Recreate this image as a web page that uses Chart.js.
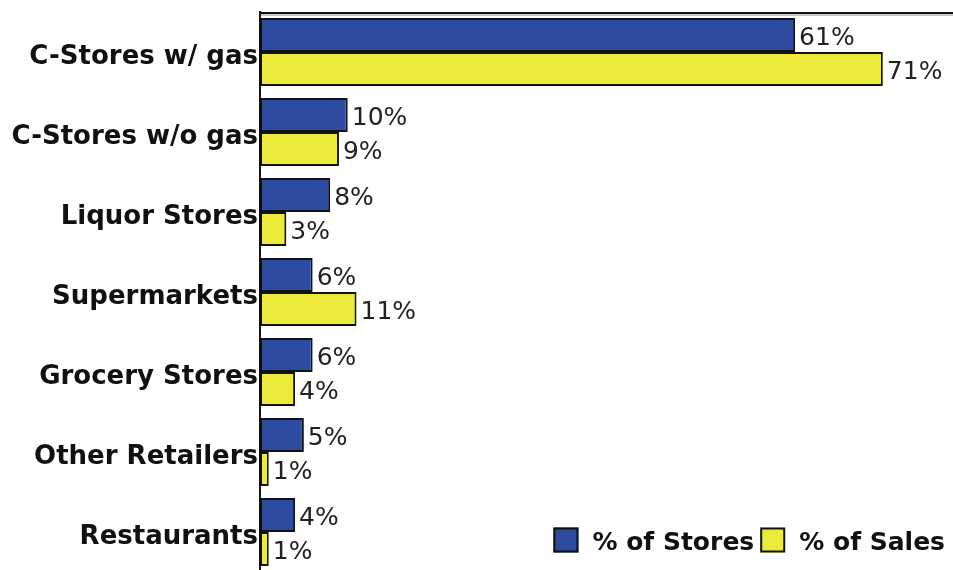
<!DOCTYPE html>
<html>
<head>
<meta charset="utf-8">
<title>Stores vs Sales</title>
<script src="https://cdn.jsdelivr.net/npm/chart.js@4/dist/chart.umd.min.js"></script>
<style>
  html, body { margin: 0; padding: 0; background: #fff; overflow: hidden; }
  #wrap { position: relative; width: 953px; height: 576px; }
</style>
</head>
<body>
<div id="wrap"><canvas id="barchart"></canvas></div>
<script>
const categories = [
  'C-Stores w/ gas',
  'C-Stores w/o gas',
  'Liquor Stores',
  'Supermarkets',
  'Grocery Stores',
  'Other Retailers',
  'Restaurants'
];
const storesPct = [61, 10, 8, 6, 6, 5, 4];
const salesPct  = [71, 9, 3, 11, 4, 1, 1];
const seriesNames = ['% of Stores', '% of Sales'];
const seriesColors = ['#2e4c9f', '#ecea3b'];

const LABEL_FONT = '"DejaVu Sans", sans-serif';

// top frame line + value labels next to each bar
const barExtras = {
  id: 'barExtras',
  afterDatasetsDraw(chart) {
    const ctx = chart.ctx;
    const area = chart.chartArea;
    ctx.save();

    ctx.strokeStyle = '#111';
    ctx.lineWidth = 2;
    ctx.beginPath();
    ctx.moveTo(area.left - 1, area.top + 1);
    ctx.lineTo(area.right, area.top + 1);
    ctx.stroke();
    ctx.strokeStyle = '#c8c8c8';
    ctx.beginPath();
    ctx.moveTo(area.left + 1, area.top + 3);
    ctx.lineTo(area.right, area.top + 3);
    ctx.stroke();

    ctx.font = '25px ' + LABEL_FONT;
    ctx.fillStyle = '#222';
    ctx.textAlign = 'left';
    ctx.textBaseline = 'middle';
    chart.data.datasets.forEach((ds, i) => {
      chart.getDatasetMeta(i).data.forEach((bar, j) => {
        ctx.fillText(ds.data[j] + '%', bar.x + 4, bar.y + 3);
      });
    });
    ctx.restore();
  }
};

// legend sits inside the plot, bottom right
const cornerLegend = {
  id: 'cornerLegend',
  afterDraw(chart) {
    const ctx = chart.ctx;
    const area = chart.chartArea;
    const box = 25;
    ctx.save();
    ctx.font = 'bold 25px ' + LABEL_FONT;
    const items = chart.data.datasets.map(ds => ({
      text: ds.label,
      color: ds.backgroundColor,
      w: ctx.measureText(ds.label).width
    }));
    const total = items.reduce((s, it) => s + box + 14 + it.w, 0) + 6 * (items.length - 1);
    let x = area.right - 8 - total;
    const cy = area.bottom - 32;
    ctx.textBaseline = 'middle';
    items.forEach(it => {
      ctx.fillStyle = it.color;
      ctx.fillRect(x, cy - box / 2, box, box);
      ctx.strokeStyle = '#111';
      ctx.lineWidth = 2;
      ctx.strokeRect(x + 1, cy - box / 2 + 1, box - 2, box - 2);
      x += box + 14;
      ctx.fillStyle = '#111';
      ctx.fillText(it.text, x, cy + 3);
      x += it.w + 6;
    });
    ctx.restore();
  }
};

const datasets = [storesPct, salesPct].map((values, i) => ({
  label: seriesNames[i],
  data: values,
  backgroundColor: seriesColors[i],
  borderColor: '#111',
  borderWidth: 2,
  borderSkipped: false,
  categoryPercentage: 0.85,
  barPercentage: 1
}));

new Chart(document.getElementById('barchart').getContext('2d'), {
  type: 'bar',
  data: { labels: categories, datasets },
  plugins: [barExtras, cornerLegend],
  options: {
    indexAxis: 'y',
    responsive: true,
    maintainAspectRatio: false,
    animation: false,
    layout: { padding: { top: 12, bottom: 4, left: 0, right: 0 } },
    plugins: {
      legend: { display: false },
      tooltip: { enabled: false }
    },
    scales: {
      x: {
        display: false,
        min: 0,
        max: 79
      },
      y: {
        grid: { display: false, drawTicks: false },
        border: { display: true, color: '#111', width: 2 },
        ticks: {
          padding: 2,
          labelOffset: 5,
          color: '#111',
          font: { family: LABEL_FONT, size: 26, weight: 'bold' }
        },
        afterFit(scale) {
          scale.width = 260;
          // labels may hang past the plot edges, keep the area fixed
          scale.paddingTop = 0;
          scale.paddingBottom = 0;
        }
      }
    }
  }
});
</script>
</body>
</html>
